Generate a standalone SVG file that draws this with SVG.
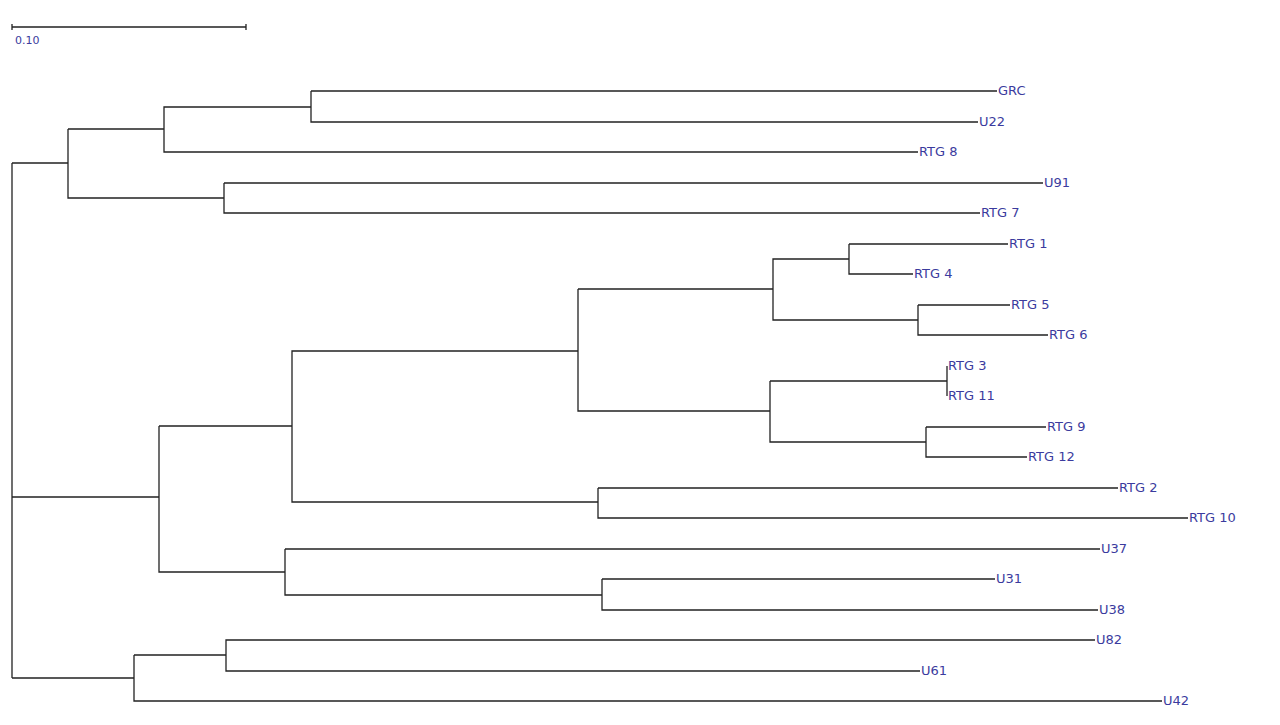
<svg xmlns="http://www.w3.org/2000/svg" width="1280" height="725" viewBox="0 0 1280 725">
<style>
.e{stroke:#222;stroke-width:1.3;fill:none}
text{font-family:"DejaVu Sans",sans-serif;font-size:13px;fill:#3b3b9e;dominant-baseline:middle}
</style>
<rect width="1280" height="725" fill="#fff"/>
<g id="scale"><path class="e" d="M12 27H246M12 24V30M246 24V30"/><text x="15" y="41" style="font-size:11px">0.10</text></g>
<g id="connectors">
<path class="e" d="M12 163V678M12 163H68M12 497H159M12 678H134"/>
<path class="e" d="M68 129V198H224M68 129H164V107H311M164 129V152H918M311 91V122H978M311 91H997M224 183V213H980M224 183H1043"/>
<path class="e" d="M159 426V572H285M159 426H292V351H578M292 351V502H598M578 289V411H770M578 289H773V259H849M773 259V320H918M849 244V274H913M849 244H1008M918 305V335H1048M918 305H1010M770 381V442H926M770 381H947M947 366V396M926 427V457H1027M926 427H1046M598 488V518H1188M598 488H1118M285 549V595H602M285 549H1100M602 579V610H1098M602 579H995"/>
<path class="e" d="M134 655V701H1162M134 655H226V640H1095M226 640V671H920"/>
</g>
<g id="labels">
<text x="998" y="91">GRC</text><text x="979" y="122">U22</text><text x="919" y="152">RTG 8</text>
<text x="1044" y="183">U91</text><text x="981" y="213">RTG 7</text><text x="1009" y="244">RTG 1</text>
<text x="914" y="274">RTG 4</text><text x="1011" y="305">RTG 5</text><text x="1049" y="335">RTG 6</text>
<text x="948" y="366">RTG 3</text><text x="948" y="396">RTG 11</text><text x="1047" y="427">RTG 9</text>
<text x="1028" y="457">RTG 12</text><text x="1119" y="488">RTG 2</text><text x="1189" y="518">RTG 10</text>
<text x="1101" y="549">U37</text><text x="996" y="579">U31</text><text x="1099" y="610">U38</text>
<text x="1096" y="640">U82</text><text x="921" y="671">U61</text><text x="1163" y="701">U42</text>
</g>
</svg>
